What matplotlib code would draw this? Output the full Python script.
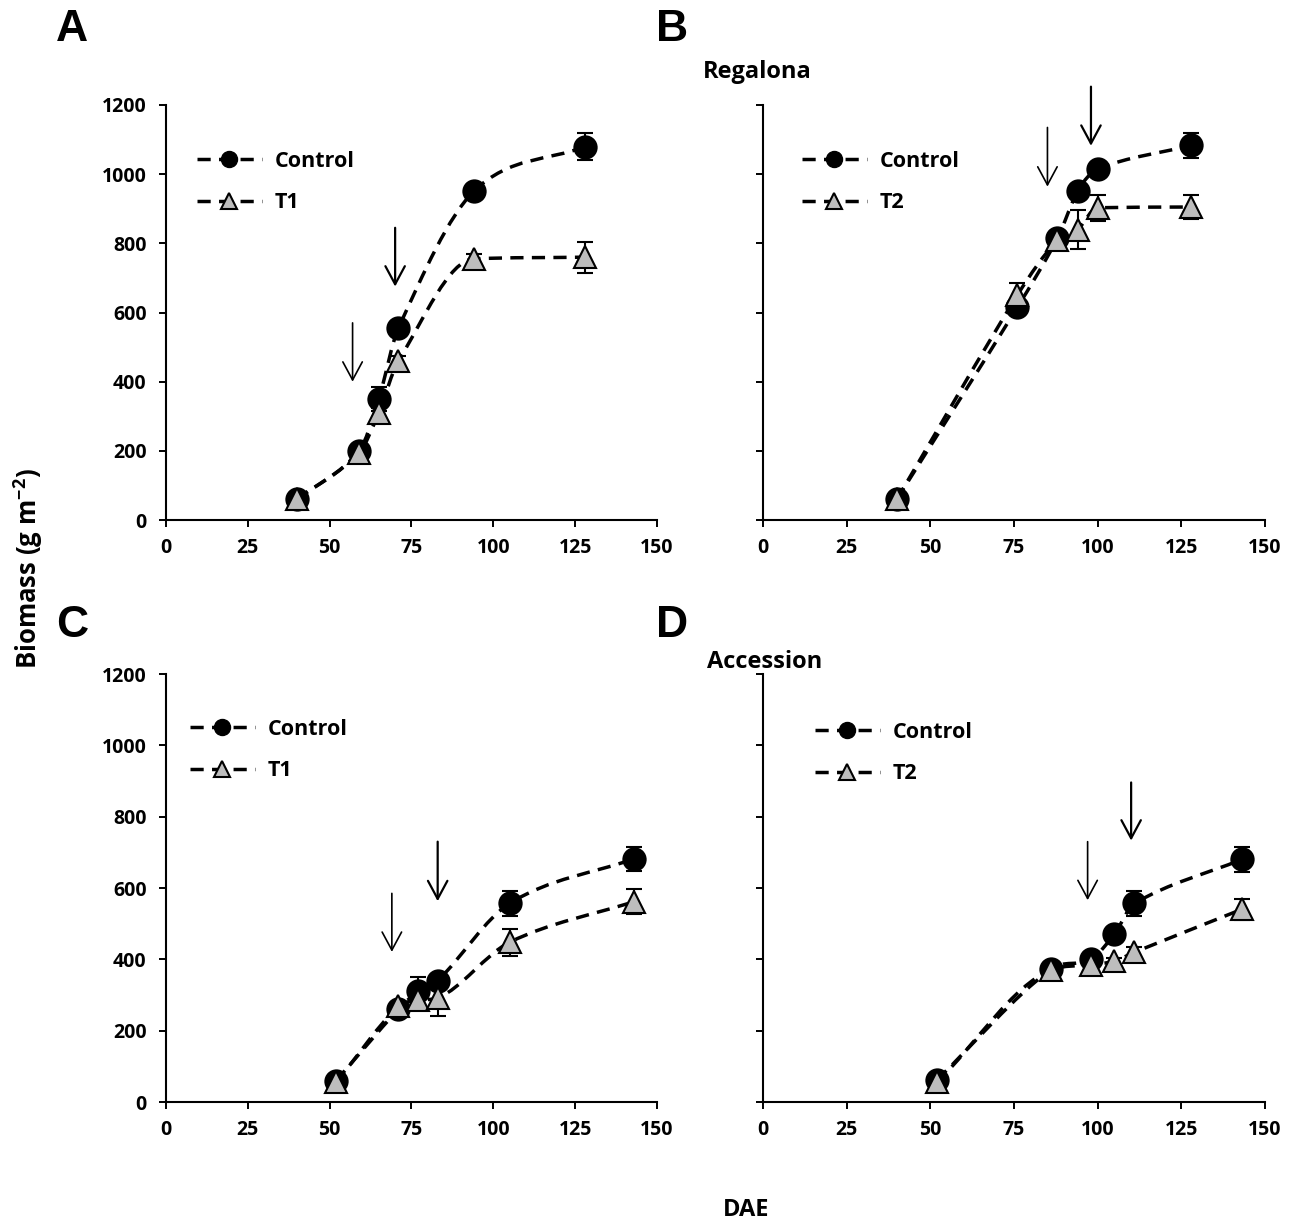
import numpy as np
import matplotlib
matplotlib.use('Agg')
import matplotlib.pyplot as plt
from matplotlib.path import Path
from matplotlib.patches import PathPatch
from matplotlib.lines import Line2D

plt.rcParams['font.family'] = ['Open Sans', 'DejaVu Sans']
plt.rcParams['font.weight'] = 'bold'
plt.rcParams['mathtext.default'] = 'regular'

# Regalona, T1 (panel A)
a_x = [40, 59, 65, 71, 94, 128]
a_control = [60, 200, 350, 555, 950, 1080]
a_control_err = [10, 10, 35, 15, 15, 40]
a_treat = [60, 195, 310, 460, 755, 760]
a_treat_err = [10, 10, 15, 15, 15, 45]
a_arrows = [(57, 570, 400), (70, 845, 675)]

# Regalona, T2 (panel B)
b_x = [40, 76, 88, 94, 100, 128]
b_control = [60, 615, 815, 950, 1015, 1083]
b_control_err = [10, 15, 20, 15, 15, 37]
b_treat = [60, 650, 810, 840, 903, 905]
b_treat_err = [10, 36, 20, 55, 38, 35]
b_arrows = [(85, 1135, 964), (98, 1253, 1082)]

# Accession, T1 (panel C)
c_x = [52, 71, 77, 83, 105, 143]
c_control = [60, 260, 310, 340, 557, 682]
c_control_err = [8, 10, 40, 15, 35, 34]
c_treat = [55, 268, 285, 292, 448, 562]
c_treat_err = [8, 10, 15, 50, 38, 34]
c_arrows = [(69, 585, 421), (83, 730, 563)]

# Accession, T2 (panel D)
d_x = [52, 86, 98, 105, 111, 143]
d_control = [62, 372, 400, 471, 557, 680]
d_control_err = [8, 10, 10, 10, 35, 34]
d_treat = [55, 370, 385, 395, 420, 540]
d_treat_err = [8, 10, 10, 10, 15, 30]
d_arrows = [(97, 730, 566), (110, 896, 733)]

x_ticks = [0, 25, 50, 75, 100, 125, 150]
y_ticks = [0, 200, 400, 600, 800, 1000, 1200]

DASH = (0, (3.8, 2.4))
GREY = '#bdbdbd'


def smooth_path(x, y):
    # catmull-rom style smoothing, tangents limited so it does not overshoot
    x = np.asarray(x, float)
    y = np.asarray(y, float)
    h = np.diff(x)
    d = np.diff(y) / h
    m = np.zeros(len(x))
    m[0], m[-1] = d[0], d[-1]
    for k in range(1, len(x) - 1):
        if d[k - 1] * d[k] <= 0:
            m[k] = 0
            continue
        cr = (y[k + 1] - y[k - 1]) / (x[k + 1] - x[k - 1])
        lim = 3 * min(abs(d[k - 1]), abs(d[k]))
        m[k] = np.sign(cr) * min(abs(cr), lim)
    verts = [(x[0], y[0])]
    codes = [Path.MOVETO]
    for k in range(len(x) - 1):
        verts += [(x[k] + h[k] / 3, y[k] + m[k] * h[k] / 3),
                  (x[k + 1] - h[k] / 3, y[k + 1] - m[k + 1] * h[k] / 3),
                  (x[k + 1], y[k + 1])]
        codes += [Path.CURVE4] * 3
    return Path(verts, codes)


def panel(ax, x, ctrl, ctrl_err, trt, trt_err, arrows, tname, legpos, ylabels):
    for y, err, z in [(ctrl, ctrl_err, 2), (trt, trt_err, 3)]:
        ax.errorbar(x, y, yerr=err, fmt='none', ecolor='black', elinewidth=1.5,
                    capsize=6, capthick=1.5, zorder=z)
        ax.add_patch(PathPatch(smooth_path(x, y), fill=False, edgecolor='black',
                               lw=2.5, linestyle=DASH, zorder=z))
    ax.plot(x, ctrl, 'o', ms=16, mfc='black', mec='black', mew=1.5, zorder=4)
    ax.plot(x, trt, '^', ms=16, mfc=GREY, mec='black', mew=1.5, zorder=5)

    for i, (xa, ytop, ybot) in enumerate(arrows):
        lw = 1.2 if i == 0 else 1.6
        ax.annotate('', xy=(xa, ybot), xytext=(xa, ytop),
                    arrowprops=dict(arrowstyle='->,head_length=1.3,head_width=0.7',
                                    lw=lw, color='black', shrinkA=0, shrinkB=0),
                    annotation_clip=False)

    handles = [
        Line2D([], [], color='black', lw=2.5, linestyle=DASH, marker='o', ms=16,
               mfc='black', mec='black'),
        Line2D([], [], color='black', lw=2.5, linestyle=DASH, marker='^', ms=16,
               mfc=GREY, mec='black', mew=1.5),
    ]
    ax.legend(handles, ['Control', tname], loc='upper left', bbox_to_anchor=legpos,
              frameon=False, fontsize=15.5, handlelength=3.0, handletextpad=0.6,
              labelspacing=0.95, markerscale=0.72, borderpad=0, borderaxespad=0)

    ax.set_xlim(0, 150)
    ax.set_ylim(0, 1200)
    ax.set_xticks(x_ticks)
    ax.set_yticks(y_ticks)
    if not ylabels:
        ax.set_yticklabels([])
    ax.spines['top'].set_visible(False)
    ax.spines['right'].set_visible(False)
    for s in ['left', 'bottom']:
        ax.spines[s].set_linewidth(1.5)
    ax.tick_params(axis='both', direction='out', length=5, width=1.4,
                   labelsize=14)
    ax.tick_params(axis='x', pad=8)
    ax.tick_params(axis='y', pad=9)


fig = plt.figure(figsize=(12.94, 12.28), dpi=100)
axA = fig.add_axes([0.1283, 0.5765, 0.3794, 0.338])
axB = fig.add_axes([0.5896, 0.5765, 0.3880, 0.338])
axC = fig.add_axes([0.1283, 0.1026, 0.3794, 0.3485])
axD = fig.add_axes([0.5896, 0.1026, 0.3880, 0.3485])

panel(axA, a_x, a_control, a_control_err, a_treat, a_treat_err, a_arrows, 'T1',
      (0.063, 0.89), True)
panel(axB, b_x, b_control, b_control_err, b_treat, b_treat_err, b_arrows, 'T2',
      (0.078, 0.89), False)
panel(axC, c_x, c_control, c_control_err, c_treat, c_treat_err, c_arrows, 'T1',
      (0.049, 0.895), True)
panel(axD, d_x, d_control, d_control_err, d_treat, d_treat_err, d_arrows, 'T2',
      (0.104, 0.888), False)

for lab, xx, yy in [('A', 0.0556, 0.9756), ('B', 0.519, 0.9756),
                    ('C', 0.0556, 0.491), ('D', 0.519, 0.491)]:
    fig.text(xx, yy, lab, ha='center', va='center', fontsize=32,
             fontweight='bold', family='Liberation Sans')

fig.text(0.585, 0.9414, 'Regalona', ha='center', va='center', fontsize=17)
fig.text(0.591, 0.461, 'Accession', ha='center', va='center', fontsize=17)
fig.text(0.5765, 0.0147, 'DAE', ha='center', va='center', fontsize=17)
fig.text(0.022, 0.5366, 'Biomass (g m$^{-2}$)', rotation=90, ha='center',
         va='center', fontsize=18.5)

fig.savefig('out.png', dpi=100)
